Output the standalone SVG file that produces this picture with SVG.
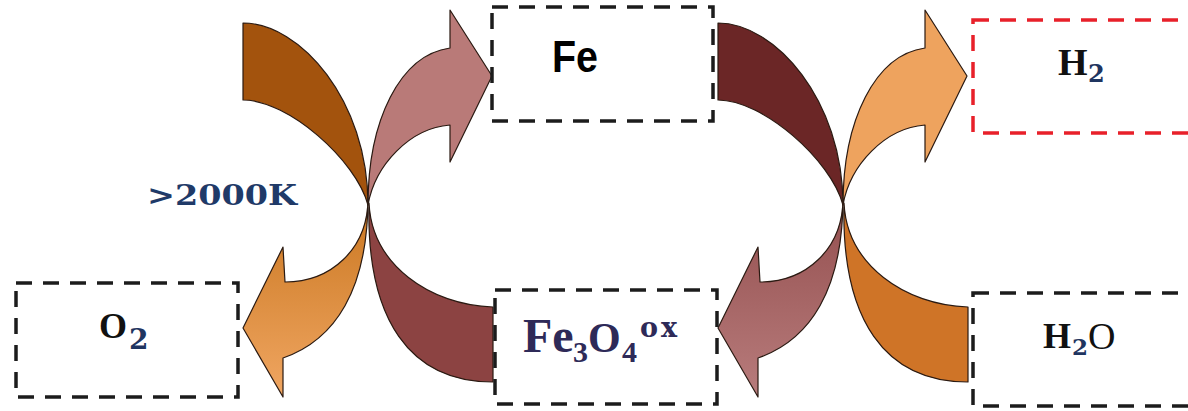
<svg xmlns="http://www.w3.org/2000/svg" width="1188" height="411" viewBox="0 0 1188 411">
<style>
.box{fill:none;stroke:#1c1c1c;stroke-width:3.5;stroke-dasharray:16 11}
.red{stroke:#e8202a}
.arr{stroke:#2a1a12;stroke-width:1.2;stroke-linejoin:round}
.ser{font-family:"Liberation Serif","Times New Roman",serif}
.dj{font-family:"DejaVu Serif",serif;font-weight:bold}
.sub{font-family:"DejaVu Serif",serif;font-weight:bold;fill:#1f3560}
</style>
<defs>
<linearGradient id="gOr" x1="0" y1="0" x2="0" y2="1"><stop offset="0" stop-color="#c9761f"/><stop offset="1" stop-color="#f0a662"/></linearGradient>
<linearGradient id="gMv" x1="0" y1="0" x2="0" y2="1"><stop offset="0" stop-color="#934e4e"/><stop offset="1" stop-color="#b87c7c"/></linearGradient>
<path id="bandTop" d="M243,23 C300,23 368,100 368,205 C356,160 288,100 243,100 Z"/>
<path id="arrowDown" d="M368,198 C368,250 330,282 285,282 L283,247 L243,328 L283,397 L283,358 C335,340 368,290 368,198 Z"/>
<path id="arrowUp" d="M368,205 C368,120 400,55 450,48 L450,10 L492,76 L450,162 L450,125 C410,128 375,165 368,205 Z"/>
<path id="bandBot" d="M493,307 C430,305 372,265 369,203 C366,320 410,382 493,382 Z"/>
</defs>
<rect width="1188" height="411" fill="#fff"/>
<g id="connectors" class="arr">
 <use href="#bandTop" fill="#a3530d"/>
 <use href="#arrowDown" fill="url(#gOr)"/>
 <use href="#bandBot" fill="#8c4342"/>
 <use href="#arrowUp" fill="#b97a78"/>
 <g transform="translate(475,0)">
  <use href="#bandTop" fill="#6b2626"/>
  <use href="#arrowDown" fill="url(#gMv)"/>
  <use href="#bandBot" fill="#cf7427"/>
  <use href="#arrowUp" fill="#eea35e"/>
 </g>
</g>
<g id="label-temp">
 <text class="dj" x="147" y="205" font-size="27" fill="#1f3a68" textLength="150" lengthAdjust="spacingAndGlyphs">&gt;2000K</text>
</g>
<g id="node-o2">
 <rect class="box" x="16" y="283" width="222" height="114"/>
 <text class="ser" x="99" y="338" font-size="36" font-weight="bold" fill="#111">O<tspan class="sub" x="129" y="349" font-size="28">2</tspan></text>
</g>
<g id="node-fe">
 <rect class="box" x="492" y="7" width="221" height="114"/>
 <text x="552" y="72" font-family="Liberation Sans, Arial, sans-serif" font-weight="bold" font-size="44" textLength="46" lengthAdjust="spacingAndGlyphs" fill="#000">Fe</text>
</g>
<g id="node-fe3o4">
 <rect class="box" x="495" y="290" width="222" height="114"/>
 <text class="ser" x="523" y="352" font-size="48" font-weight="bold" fill="#2e2a58">Fe<tspan x="573" y="362" font-size="30">3</tspan><tspan x="588" y="352" font-size="42">O</tspan><tspan x="622" y="362" font-size="30">4</tspan><tspan class="dj" x="640" y="337" font-size="27" letter-spacing="3">ox</tspan></text>
</g>
<g id="node-h2">
 <rect class="box red" x="973" y="20" width="240" height="113"/>
 <text class="ser" x="1058" y="75" font-size="38" font-weight="bold" fill="#111">H<tspan class="sub" x="1088" y="82" font-size="24">2</tspan></text>
</g>
<g id="node-h2o">
 <rect class="box" x="973" y="293" width="240" height="113"/>
 <text class="ser" x="1043" y="348" font-size="36" font-weight="bold" fill="#111">H<tspan class="sub" x="1072" y="355" font-size="23">2</tspan><tspan x="1088" y="349" font-size="38" font-weight="normal">O</tspan></text>
</g>
</svg>
